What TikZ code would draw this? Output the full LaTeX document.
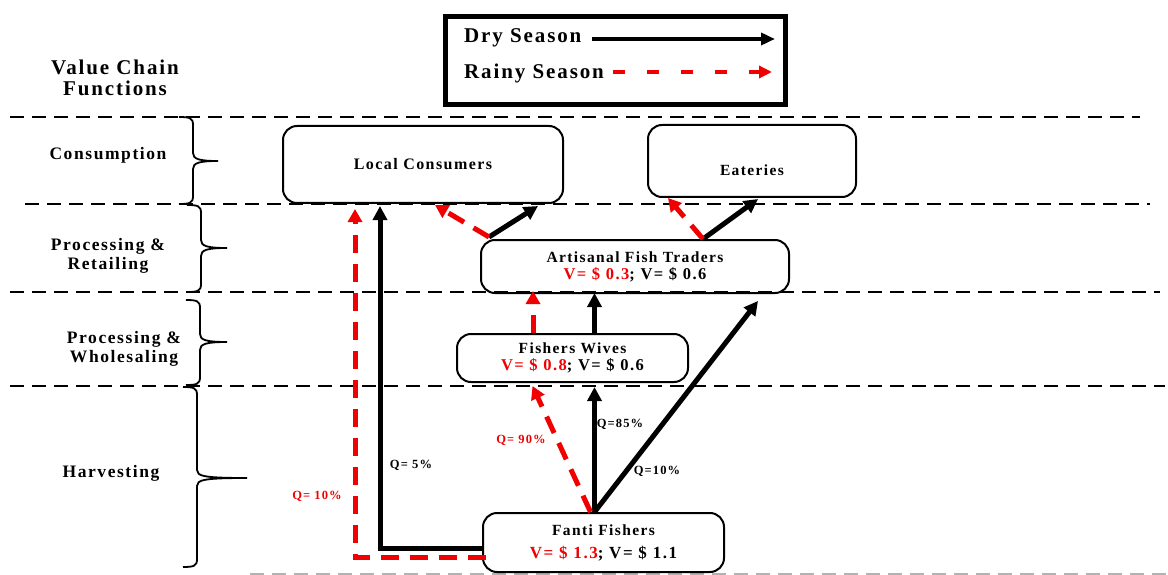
\documentclass[tikz,border=0pt]{standalone}
\usepackage{fontspec}
\setmainfont{Liberation Serif}
\newfontfamily\ls[LetterSpace=9]{Liberation Serif}
\usetikzlibrary{arrows.meta,calc}
\definecolor{mred}{RGB}{240,0,0}
\tikzset{
 box/.style={draw, line width=2pt, rounded corners=14pt, inner sep=0pt, align=center},
 sep/.style={draw, line width=1.5pt, dash pattern=on 14pt off 8pt},
 dry/.style={draw, line width=5pt, -{Triangle[length=14pt,width=14pt]}},
 rainy/.style={draw=mred, line width=5pt, dash pattern=on 18pt off 11pt, -{Triangle[length=13pt,width=14pt]}},
 brace/.style={draw, line width=1.8pt},
 fn/.style={font=\ls\bfseries\fontsize{17.5}{19}\selectfont, align=center},
 qlab/.style={font=\ls\bfseries\fontsize{12.5}{14}\selectfont},
 ttl/.style={font=\ls\bfseries\fontsize{15.5}{17}\selectfont},
}
\newcommand{\mybrace}[5]{%
\draw[brace] (#1-14,#2) .. controls (#1-3,#2) and (#1,#2+1) .. (#1,#2+8)
 -- (#1,#4-8) .. controls (#1,#4-2) and (#1+6,#4) .. (#5,#4)
 .. controls (#1+6,#4) and (#1,#4+2) .. (#1,#4+8)
 -- (#1,#3-8) .. controls (#1,#3-1) and (#1-3,#3) .. (#1-14,#3);}
\begin{document}
\begin{tikzpicture}[x=1pt,y=-1pt]
\useasboundingbox (0,0) rectangle (1168,575);
\fill[white] (0,0) rectangle (1168,575);

% separators
\draw[sep] (10,117) -- (1140,117);
\draw[sep] (25,204) -- (1150,204);
\draw[sep] (10,292) -- (1160,292);
\draw[sep] (10,386) -- (1165,386);
\draw[sep, black!30] (250,574) -- (1168,574);

% legend
\draw[line width=5pt] (445.5,16.5) rectangle (785.5,104.5);
\node[anchor=west, font=\ls\bfseries\fontsize{21}{22}\selectfont, inner sep=0pt] (dry) at (464,38) {Dry Season};
\node[anchor=west, font=\ls\bfseries\fontsize{21}{22}\selectfont, inner sep=0pt] (rainy) at (464,73) {Rainy Season};
\coordinate (drys) at (592,39);
\coordinate (drye) at (775,39);
\coordinate (rains) at (613,72);
\coordinate (raine) at (772,72);
\draw[line width=4pt, -{Triangle[length=14pt,width=12pt]}] (drys) -- (drye);
\draw[draw=mred, line width=4pt, dash pattern=on 12pt off 22pt, -{Triangle[length=13pt,width=12pt]}] (rains) -- (raine);

% left labels
\node[font=\ls\bfseries\fontsize{21}{21}\selectfont, align=center] (vcf) at (115,78) {Value Chain\\Functions};
\node[fn] (cons) at (108,155) {Consumption};
\node[fn] (pr) at (108,256) {Processing \&\\Retailing};
\node[fn] (pw) at (124,349) {Processing \&\\Wholesaling};
\node[fn] (harv) at (111,473) {Harvesting};

% braces
\mybrace{193}{117}{204}{161}{218}
\mybrace{201}{205}{292}{248}{227}
\mybrace{200}{300}{385}{342}{227}
\mybrace{197}{387}{567}{478}{247}

% nodes
\node[box, minimum width=280pt, minimum height=77pt, font=\ls\bfseries\fontsize{16}{17}\selectfont] (lc) at (423,164.5) {Local Consumers};
\node[box, minimum width=208pt, minimum height=72pt, label={[ttl, yshift=-9pt]center:Eateries}] (eat) at (752,161) {};
\node[box, minimum width=308pt, minimum height=53pt, ttl] (traders) at (635,266.5)
 {Artisanal Fish Traders\\{\fontsize{16.5}{17}\selectfont\textcolor{mred}{V= \$ 0.3}; V= \$ 0.6}};
\node[box, minimum width=231pt, minimum height=48pt, ttl] (wives) at (572.5,358)
 {Fishers Wives\\{\fontsize{16.5}{17}\selectfont\textcolor{mred}{V= \$ 0.8}; V= \$ 0.6}};
\node[box, minimum width=241pt, minimum height=59pt, ttl] (fanti) at (603.5,542.5)
 {Fanti Fishers\\[6pt]{\fontsize{17}{18}\selectfont\textcolor{mred}{V= \$ 1.3}; V= \$ 1.1}};

% connectors from Fanti Fishers
\coordinate (fs) at ([xshift=-9pt]fanti.north);
\draw[dry] (fs) -- ([yshift=-4pt]fs |- wives.south);
\draw[dry] (fs) -- ([xshift=-32pt,yshift=-7pt]traders.south east);
\draw[rainy] ([xshift=-4pt]fs) -- ([xshift=-40pt,yshift=-3pt]wives.south);

% wives -> traders
\draw[dry] ([xshift=22pt]wives.north) -- ([xshift=22pt,yshift=1pt]wives.north |- traders.south);
\draw[rainy] ([xshift=-39.5pt]wives.north) -- ([xshift=-39.5pt,yshift=3pt]wives.north |- traders.south);

% traders -> consumers / eateries
\draw[dry] ([xshift=9pt,yshift=2pt]traders.north west) -- ([xshift=-26pt,yshift=-2pt]lc.south east);
\draw[rainy] ([xshift=9pt,yshift=2pt]traders.north west) -- ([xshift=12pt,yshift=-1pt]lc.south);
\draw[dry] ([xshift=68pt]traders.north) -- ([xshift=6pt,yshift=-1pt]eat.south);
\draw[rainy] ([xshift=68pt]traders.north) -- ([xshift=21pt]eat.south west);

% fanti -> local consumers
\draw[dry] ([yshift=-5.5pt]fanti.west) -| ([xshift=-43pt,yshift=-2pt]lc.south);
\draw[rainy] ([xshift=4pt,yshift=-14.5pt]fanti.west) -| ([xshift=-68pt,yshift=-5pt]lc.south);

% quantity labels
\node[qlab] (q5) at (411,465) {Q= 5\%};
\node[qlab, text=mred] (q10r) at (317,496) {Q= 10\%};
\node[qlab, text=mred] (q90) at (521,440) {Q= 90\%};
\node[qlab] (q85) at (620,424) {Q=85\%};
\node[qlab] (q10) at (657,471) {Q=10\%};
\end{tikzpicture}
\end{document}
